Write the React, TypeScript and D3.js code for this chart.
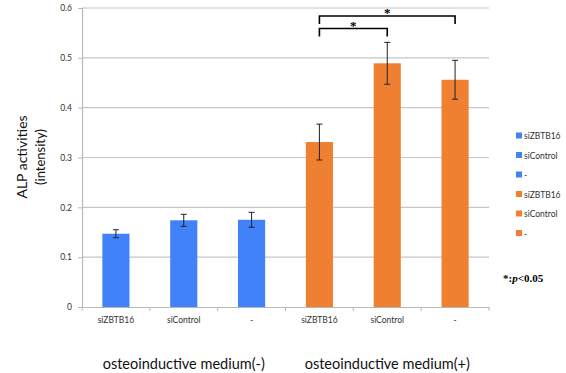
import * as d3 from 'd3';
import { useEffect, useRef } from 'react';

const categories = ['siZBTB16', 'siControl', '-', 'siZBTB16', 'siControl', '-'];
const groups = ['osteoinductive medium(-)', 'osteoinductive medium(+)'];
const values = [0.147, 0.174, 0.175, 0.331, 0.489, 0.456];
const errors = [0.008, 0.012, 0.015, 0.036, 0.042, 0.039];
const yTicks = [0, 0.1, 0.2, 0.3, 0.4, 0.5, 0.6];
// brackets: [from index, to index, level]
const brackets = [[3, 5, 0], [3, 4, 1]];
const colors = ['#4282f8', '#f08031'];

const App = () => {
  const svgRef = useRef<SVGSVGElement>(null);

  useEffect(() => {
    const svg = d3.select(svgRef.current);
    svg.selectAll('*').remove();
    const margin = { top: 8, left: 82, right: 77, bottom: 66 };
    const width = 566 - margin.left - margin.right;
    const height = 373 - margin.top - margin.bottom;
    const font = 'Lato, "Open Sans", sans-serif';

    const idx = categories.map((_, i) => i);
    const x = d3.scaleBand<number>().domain(idx).range([0, width]).paddingInner(0.6).paddingOuter(0.3);
    const band = d3.scaleBand<number>().domain(idx).range([0, width]);
    const y = d3.scaleLinear().domain([0, 0.6]).range([height, 0]);

    const g = svg.append('g').attr('transform', `translate(${margin.left},${margin.top})`);

    // gridlines
    g.selectAll('.grid').data(yTicks.slice(1)).enter().append('line')
      .attr('x1', 0).attr('x2', width)
      .attr('y1', d => y(d)).attr('y2', d => y(d))
      .attr('stroke', '#c6c6c6').attr('stroke-width', 1.2);

    // y axis
    const ya = g.append('g').call(d3.axisLeft(y).tickValues(yTicks).tickSize(4).tickPadding(6)
      .tickFormat(d => (d === 0 ? '0' : d3.format('.1f')(d as number))));
    ya.select('.domain').attr('stroke', '#b8b8b8').attr('stroke-width', 1.2);
    ya.selectAll('.tick line').attr('stroke', '#b8b8b8');
    ya.selectAll('text').attr('font-family', font).attr('font-size', 8.5).attr('fill', '#333');

    // x axis
    const xa = g.append('g').attr('transform', `translate(0,${height})`)
      .call(d3.axisBottom(band).tickSize(0).tickFormat(() => ''));
    xa.select('.domain').attr('stroke', '#b8b8b8').attr('stroke-width', 1.2);
    xa.selectAll('.tick').remove();
    g.selectAll('.xt').data(d3.range(categories.length + 1)).enter().append('line')
      .attr('x1', d => d * band.step()).attr('x2', d => d * band.step())
      .attr('y1', height).attr('y2', height + 4)
      .attr('stroke', '#b8b8b8');
    g.selectAll('.cat').data(idx).enter().append('text')
      .attr('x', d => (band(d) as number) + band.bandwidth() / 2)
      .attr('y', height + 16)
      .attr('text-anchor', 'middle')
      .attr('font-family', font).attr('font-size', 8.5).attr('fill', '#333')
      .text(d => categories[d]);

    // bars
    g.selectAll('.bar').data(idx).enter().append('rect')
      .attr('x', d => x(d) as number)
      .attr('y', d => y(values[d]))
      .attr('width', x.bandwidth())
      .attr('height', d => height - y(values[d]))
      .attr('fill', d => colors[d < 3 ? 0 : 1]);

    // error bars
    const eb = g.selectAll('.err').data(idx).enter().append('g')
      .attr('transform', d => `translate(${(x(d) as number) + x.bandwidth() / 2},0)`)
      .attr('stroke', '#222').attr('stroke-width', 1);
    eb.append('line').attr('y1', d => y(values[d] + errors[d])).attr('y2', d => y(values[d] - errors[d]));
    eb.append('line').attr('x1', -3).attr('x2', 3).attr('y1', d => y(values[d] + errors[d])).attr('y2', d => y(values[d] + errors[d]));
    eb.append('line').attr('x1', -3).attr('x2', 3).attr('y1', d => y(values[d] - errors[d])).attr('y2', d => y(values[d] - errors[d]));

    // significance brackets
    brackets.forEach(([a, b, lvl]) => {
      const xa1 = (x(a) as number) + x.bandwidth() / 2;
      const xb1 = (x(b) as number) + x.bandwidth() / 2;
      const top = 8 + lvl * 12.5;
      g.append('path')
        .attr('d', `M${xa1},${top + 8}V${top}H${xb1}V${top + 8}`)
        .attr('fill', 'none').attr('stroke', '#000').attr('stroke-width', 1.6);
      g.append('text')
        .attr('x', (xa1 + xb1) / 2).attr('y', top + 1)
        .attr('text-anchor', 'middle')
        .attr('font-family', 'Liberation Serif, serif').attr('font-weight', 'bold').attr('font-size', 13)
        .text('*');
    });

    // group labels
    groups.forEach((lab, i) => {
      g.append('text')
        .attr('x', band.step() * (i * 3 + 1.5))
        .attr('y', height + 62)
        .attr('text-anchor', 'middle')
        .attr('font-family', font).attr('font-size', 14.5).attr('fill', '#111')
        .text(lab);
    });

    // y label
    const yl = svg.append('text')
      .attr('transform', 'translate(27,157) rotate(-90)')
      .attr('text-anchor', 'middle')
      .attr('font-family', font).attr('font-size', 14).attr('fill', '#111');
    yl.append('tspan').attr('x', 0).attr('y', 0).text('ALP activities');
    yl.append('tspan').attr('x', 0).attr('y', 18).attr('font-size', 13).text('(intensity)');

    // legend
    const leg = svg.append('g').attr('transform', 'translate(516,136)');
    idx.forEach((d, i) => {
      const row = leg.append('g').attr('transform', `translate(0,${i * 19.5})`);
      row.append('rect').attr('x', 0).attr('y', -3.5).attr('width', 6).attr('height', 6).attr('fill', colors[d < 3 ? 0 : 1]);
      row.append('text').attr('x', 8).attr('y', 3).attr('font-family', font).attr('font-size', 8.5).attr('fill', '#333')
        .text(categories[d]);
    });

    const note = svg.append('text').attr('x', 503).attr('y', 282)
      .attr('font-family', 'Liberation Serif, serif').attr('font-weight', 'bold').attr('font-size', 11);
    note.append('tspan').text('*:');
    note.append('tspan').attr('font-style', 'italic').text('p');
    note.append('tspan').text('<0.05');
  }, []);

  return <svg ref={svgRef} width={566} height={373} style={{ position: 'absolute', left: 0, top: 0 }} />;
};

export default App;
